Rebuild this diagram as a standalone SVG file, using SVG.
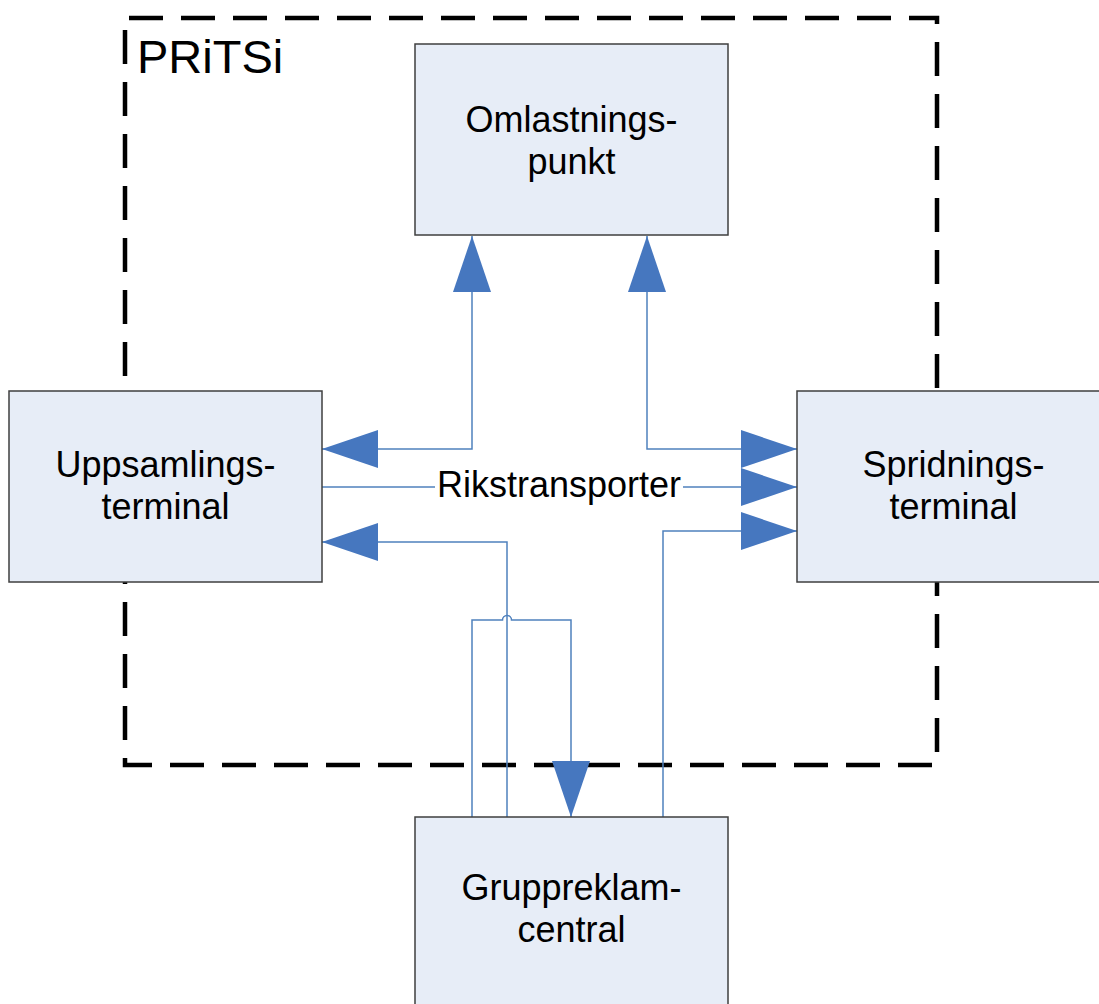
<svg xmlns="http://www.w3.org/2000/svg" width="1099" height="1004" viewBox="0 0 1099 1004">
<style>
.box{fill:#E7EDF7;stroke:#3F3F3F;stroke-width:1.5}
.lbl{font-family:"Liberation Sans",Arial,sans-serif;font-size:36px;fill:#000;text-anchor:middle}
.conn{fill:none;stroke:#4F81BD;stroke-width:1.5}
</style>
<defs>
<marker id="arr" markerUnits="userSpaceOnUse" markerWidth="56" markerHeight="38" viewBox="0 0 56 38" refX="56" refY="19" orient="auto-start-reverse">
<path d="M0,0 L56,19 L0,38 Z" fill="#4677BF"/>
</marker>
</defs>
<rect width="1099" height="1004" fill="#FFFFFF"/>
<g id="pritsi">
<rect x="125" y="18" width="812" height="747" fill="none" stroke="#000" stroke-width="4.5" stroke-dasharray="34 18" stroke-dashoffset="48"/>
<text x="137" y="73" font-family="&quot;Liberation Sans&quot;,Arial,sans-serif" font-size="47">PRiTSi</text>
</g>
<g id="connectors">
<path class="conn" d="M322,449 H472 V236" marker-start="url(#arr)" marker-end="url(#arr)"/>
<path class="conn" d="M647,236 V449 H797" marker-start="url(#arr)" marker-end="url(#arr)"/>
<path class="conn" d="M322,487 H797" marker-end="url(#arr)"/>
<path class="conn" d="M507,817 V542 H322" marker-end="url(#arr)"/>
<path class="conn" d="M472,817 V620 H502.5 A4.5,4.5 0 0 1 511.5,620 H571 V817" marker-end="url(#arr)"/>
<path class="conn" d="M663,817 V531 H797" marker-end="url(#arr)"/>
<rect x="435" y="468" width="248" height="38" fill="#FFFFFF"/>
<text class="lbl" x="559" y="497" font-size="35">Rikstransporter</text>
</g>
<g id="omlastningspunkt">
<rect class="box" x="415" y="44" width="313" height="191"/>
<text class="lbl" x="571.5" y="132">Omlastnings-</text>
<text class="lbl" x="571.5" y="174">punkt</text>
</g>
<g id="uppsamlingsterminal">
<rect class="box" x="9" y="391" width="313" height="191"/>
<text class="lbl" x="165.5" y="477">Uppsamlings-</text>
<text class="lbl" x="165.5" y="519">terminal</text>
</g>
<g id="spridningsterminal">
<rect class="box" x="797" y="391" width="313" height="191"/>
<text class="lbl" x="953.5" y="477">Spridnings-</text>
<text class="lbl" x="953.5" y="519">terminal</text>
</g>
<g id="gruppreklamcentral">
<rect class="box" x="415" y="817" width="313" height="191"/>
<text class="lbl" x="571.5" y="900">Gruppreklam-</text>
<text class="lbl" x="571.5" y="942">central</text>
</g>
</svg>
